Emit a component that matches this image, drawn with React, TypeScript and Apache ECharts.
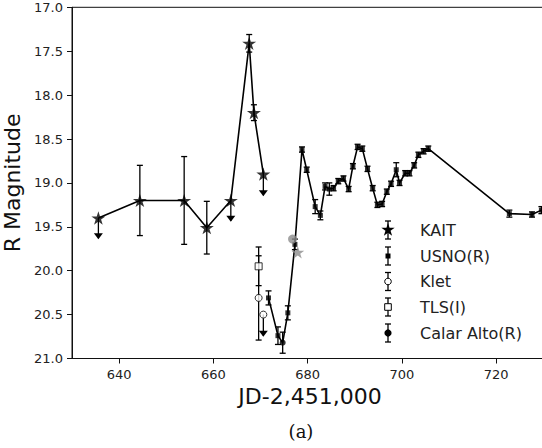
import React, { useEffect, useRef } from 'react';
import * as echarts from 'echarts';

// ---- data (JD-2,451,000, R magnitude) ----
const xTickValues = [640, 660, 680, 700, 720];

const kaitJD = [635.6, 644.4, 653.8, 658.6, 663.7, 667.6, 668.6, 670.6];
const kaitMag = [19.4, 19.2, 19.2, 19.51, 19.2, 17.41, 18.2, 18.9];
const kaitErr = [0, 0.4, 0.5, 0.3, 0, 0.1, 0.09, 0];
const kaitLimit = [0.23, 0, 0, 0, 0.23, 0, 0, 0.24];

const usnoJD = [671.7, 673.7, 675.8, 677.3, 678.8, 679.8, 681.6, 682.7, 683.7, 684.6, 685.5, 686.5, 687.6, 688.7, 689.6, 690.6, 691.6, 692.7, 693.8, 694.8, 695.8, 696.8, 697.7, 698.8, 699.5, 700.7, 701.6, 702.6, 703.5, 704.6, 705.6, 722.8, 727.6, 729.6];
const usnoMag = [20.31, 20.74, 20.48, 19.7, 18.62, 18.85, 19.27, 19.37, 19.04, 19.07, 19.06, 18.98, 18.95, 19.07, 18.81, 18.59, 18.61, 18.84, 19.06, 19.25, 19.24, 19.1, 19.01, 18.85, 19.0, 18.89, 18.89, 18.8, 18.68, 18.64, 18.61, 19.35, 19.36, 19.31];
const usnoErr = [0.08, 0.1, 0.08, 0.06, 0.03, 0.03, 0.08, 0.05, 0.04, 0.07, 0.03, 0.03, 0.03, 0.03, 0.03, 0.03, 0.03, 0.03, 0.03, 0.03, 0.03, 0.03, 0.03, 0.08, 0.03, 0.03, 0.03, 0.03, 0.03, 0.03, 0.03, 0.04, 0.03, 0.04];

const kletJD = [669.6, 670.6];
const kletMag = [20.31, 20.5];
const kletErr = [0.48, 0];
const kletLimit = [0, 0.24];

const tlsJD = [669.6];
const tlsMag = [19.95];
const tlsErr = [0.22];

const calarJD = [674.7];
const calarMag = [20.82];
const calarErr = [0.12];

const grayCircleJD = [676.8];
const grayCircleMag = [19.64];
const grayStarJD = [677.9];
const grayStarMag = [19.79];

const legendNames = ['KAIT', 'USNO(R)', 'Klet', 'TLS(I)', 'Calar Alto(R)'];

// ---- helpers ----
function starCoords(cx: number, cy: number, r: number): number[][] {
  const pts: number[][] = [];
  const inner = r * 0.382;
  for (let i = 0; i < 10; i++) {
    const ang = -Math.PI / 2 + (i * Math.PI) / 5;
    const rr = i % 2 === 0 ? r : inner;
    pts.push([cx + rr * Math.cos(ang), cy + rr * Math.sin(ang)]);
  }
  return pts;
}
const starPath =
  'path://' +
  starCoords(50, 50, 50)
    .map((p, i) => (i === 0 ? 'M' : 'L') + p[0].toFixed(2) + ' ' + p[1].toFixed(2))
    .join(' ') +
  ' Z';

function errData(jd: number[], mag: number[], err: number[]) {
  const out: number[][] = [];
  jd.forEach((x, i) => {
    if (err[i] > 0) out.push([x, mag[i] - err[i], mag[i] + err[i]]);
  });
  return out;
}
function limData(jd: number[], mag: number[], lim: number[]) {
  const out: number[][] = [];
  jd.forEach((x, i) => {
    if (lim[i] > 0) out.push([x, mag[i], mag[i] + lim[i]]);
  });
  return out;
}
const pairs = (a: number[], b: number[]) => a.map((x, i) => [x, b[i]]);

const BLACK = '#000';

const errorRender = (params: any, api: any) => {
  const x = api.value(0);
  const p1 = api.coord([x, api.value(1)]);
  const p2 = api.coord([x, api.value(2)]);
  const c = 3;
  const st = { stroke: BLACK, lineWidth: 1.3 };
  return {
    type: 'group',
    children: [
      { type: 'line', shape: { x1: p1[0], y1: p1[1], x2: p2[0], y2: p2[1] }, style: st },
      { type: 'line', shape: { x1: p1[0] - c, y1: p1[1], x2: p1[0] + c, y2: p1[1] }, style: st },
      { type: 'line', shape: { x1: p2[0] - c, y1: p2[1], x2: p2[0] + c, y2: p2[1] }, style: st },
    ],
  };
};
const limitRender = (params: any, api: any) => {
  const x = api.value(0);
  const p1 = api.coord([x, api.value(1)]);
  const p2 = api.coord([x, api.value(2)]);
  return {
    type: 'group',
    children: [
      { type: 'line', shape: { x1: p1[0], y1: p1[1], x2: p2[0], y2: p2[1] }, style: { stroke: BLACK, lineWidth: 1.3 } },
      {
        type: 'polygon',
        shape: { points: [[p2[0] - 4.5, p2[1] - 5], [p2[0] + 4.5, p2[1] - 5], [p2[0], p2[1] + 1]] },
        style: { fill: BLACK },
      },
    ],
  };
};

function legendGraphic() {
  const x0 = 388;
  const rows = [230, 256, 281.5, 307, 333];
  const children: any[] = [];
  rows.forEach((y, i) => {
    const st = { stroke: BLACK, lineWidth: 1.3 };
    children.push({ type: 'line', shape: { x1: x0, y1: y - 9, x2: x0, y2: y + 9 }, style: st });
    children.push({ type: 'line', shape: { x1: x0 - 3, y1: y - 9, x2: x0 + 3, y2: y - 9 }, style: st });
    children.push({ type: 'line', shape: { x1: x0 - 3, y1: y + 9, x2: x0 + 3, y2: y + 9 }, style: st });
    if (i === 0) children.push({ type: 'polygon', shape: { points: starCoords(x0, y, 7) }, style: { fill: BLACK } });
    if (i === 1) children.push({ type: 'rect', shape: { x: x0 - 2.5, y: y - 2.5, width: 5, height: 5 }, style: { fill: BLACK } });
    if (i === 2) children.push({ type: 'circle', shape: { cx: x0, cy: y, r: 3.3 }, style: { fill: '#fff', stroke: BLACK, lineWidth: 1 } });
    if (i === 3) children.push({ type: 'rect', shape: { x: x0 - 3.3, y: y - 3.3, width: 6.6, height: 6.6 }, style: { fill: '#fff', stroke: BLACK, lineWidth: 1 } });
    if (i === 4) children.push({ type: 'circle', shape: { cx: x0, cy: y, r: 3.6 }, style: { fill: BLACK } });
    children.push({
      type: 'text',
      x: 420,
      y: y,
      style: { text: legendNames[i], font: '16px "DejaVu Sans"', fill: '#222', textVerticalAlign: 'middle' },
    });
  });
  return children;
}

export default function App() {
  const ref = useRef<HTMLDivElement>(null);
  useEffect(() => {
    const chart = echarts.init(ref.current!, null, { renderer: 'svg' });
    const mainLine = [...pairs(usnoJD, usnoMag), ...pairs(calarJD, calarMag)].sort((a, b) => a[0] - b[0]);
    const option: any = {
      animation: false,
      backgroundColor: '#fff',
      grid: {
        left: 72,
        top: 7.3,
        right: -6,
        bottom: 89.5,
        show: true,
        borderColor: '#111',
        borderWidth: 1,
        backgroundColor: 'transparent',
        outerBoundsMode: 'none',
      },
      xAxis: {
        type: 'value',
        min: 630,
        max: 731,
        name: 'JD-2,451,000',
        nameLocation: 'middle',
        nameGap: 21,
        nameTextStyle: { fontFamily: 'DejaVu Sans', fontSize: 22, color: '#111' },
        splitLine: { show: false },
        axisLine: { show: true, lineStyle: { color: '#111', width: 1 } },
        axisTick: { show: true, inside: false, length: 5, lineStyle: { color: '#111' }, customValues: xTickValues },
        axisLabel: { fontFamily: 'DejaVu Sans', fontSize: 13, color: '#222', margin: 9, customValues: xTickValues },
      },
      yAxis: {
        type: 'value',
        inverse: true,
        min: 17,
        max: 21,
        interval: 0.5,
        name: 'R Magnitude',
        nameLocation: 'middle',
        nameGap: 39,
        nameTextStyle: { fontFamily: 'DejaVu Sans', fontSize: 22, color: '#111' },
        splitLine: { show: false },
        axisLine: { show: true, lineStyle: { color: '#111', width: 1 } },
        axisTick: { show: true, inside: false, length: 5, lineStyle: { color: '#111' } },
        axisLabel: {
          fontFamily: 'DejaVu Sans',
          fontSize: 13,
          color: '#222',
          margin: 9,
          formatter: (v: number) => v.toFixed(1),
        },
      },
      series: [
        { type: 'line', data: pairs(kaitJD, kaitMag), showSymbol: false, lineStyle: { color: BLACK, width: 1.6 }, z: 2, silent: true },
        { type: 'line', data: mainLine, showSymbol: false, lineStyle: { color: BLACK, width: 1.6 }, z: 2, silent: true },
        { type: 'custom', renderItem: errorRender, data: errData(kaitJD, kaitMag, kaitErr), z: 3 },
        { type: 'custom', renderItem: limitRender, data: limData(kaitJD, kaitMag, kaitLimit), z: 3 },
        { type: 'custom', renderItem: errorRender, data: errData(usnoJD, usnoMag, usnoErr), z: 3 },
        { type: 'custom', renderItem: errorRender, data: errData(tlsJD, tlsMag, tlsErr), z: 3 },
        { type: 'custom', renderItem: errorRender, data: errData(kletJD, kletMag, kletErr), z: 3 },
        { type: 'custom', renderItem: limitRender, data: limData(kletJD, kletMag, kletLimit), z: 3 },
        { type: 'custom', renderItem: errorRender, data: errData(calarJD, calarMag, calarErr), z: 3 },
        { name: 'KAIT', type: 'scatter', data: pairs(kaitJD, kaitMag), symbol: starPath, symbolSize: 14, symbolKeepAspect: true, itemStyle: { color: BLACK }, z: 5 },
        { name: 'USNO(R)', type: 'scatter', data: pairs(usnoJD, usnoMag), symbol: 'rect', symbolSize: 5, itemStyle: { color: BLACK }, z: 5 },
        { name: 'Klet', type: 'scatter', data: pairs(kletJD, kletMag), symbol: 'circle', symbolSize: 7, itemStyle: { color: '#fff', borderColor: BLACK, borderWidth: 1 }, z: 5 },
        { name: 'TLS(I)', type: 'scatter', data: pairs(tlsJD, tlsMag), symbol: 'rect', symbolSize: 7, itemStyle: { color: '#fff', borderColor: BLACK, borderWidth: 1 }, z: 5 },
        { name: 'Calar Alto(R)', type: 'scatter', data: pairs(calarJD, calarMag), symbol: 'circle', symbolSize: 6, itemStyle: { color: BLACK }, z: 5 },
        { type: 'scatter', data: pairs(grayCircleJD, grayCircleMag), symbol: 'circle', symbolSize: 9, itemStyle: { color: '#8c8c8c' }, z: 6 },
        { type: 'scatter', data: pairs(grayStarJD, grayStarMag), symbol: starPath, symbolSize: 13, symbolKeepAspect: true, itemStyle: { color: '#8c8c8c' }, z: 6 },
      ],
      graphic: [
        { type: 'group', children: legendGraphic() },
        {
          type: 'text',
          x: 301,
          y: 431,
          style: { text: '(a)', font: '18px "DejaVu Serif"', fill: '#111', textAlign: 'center', textVerticalAlign: 'middle' },
        },
      ],
    };
    chart.setOption(option);
    return () => chart.dispose();
  }, []);
  return <div ref={ref} style={{ width: 542, height: 448, position: 'fixed', left: 0, top: 0, background: '#fff' }} />;
}
